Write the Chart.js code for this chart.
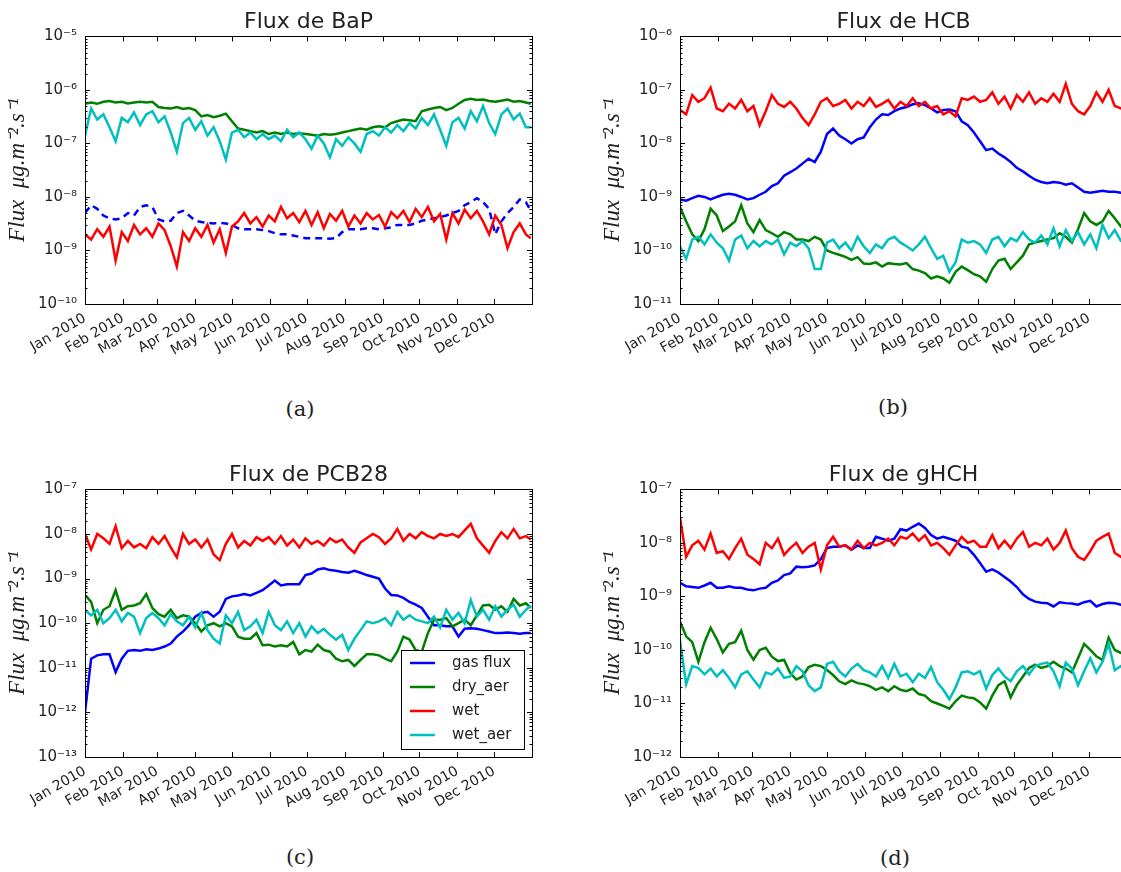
<!DOCTYPE html>
<html>
<head>
<meta charset="utf-8">
<script src="https://cdn.jsdelivr.net/npm/chart.js@4.4.1/dist/chart.umd.min.js"></script>
<style>
    body { margin: 0; background: #fff; width: 1121px; height: 872px; overflow: hidden; position: relative; }
    canvas { position: absolute; }
    .cap { position: absolute; width: 60px; text-align: center; font-family: 'DejaVu Serif', serif; font-size: 21px; line-height: 24px; color: #222; }
</style>
</head>
<body>
<canvas id="chartA" width="545" height="384" style="left:0;top:0"></canvas>
<canvas id="chartB" width="545" height="384" style="left:595px;top:0"></canvas>
<canvas id="chartC" width="545" height="384" style="left:0;top:453px"></canvas>
<canvas id="chartD" width="545" height="384" style="left:595px;top:453px"></canvas>
<div class="cap" style="left:270px;top:397px">(a)</div>
<div class="cap" style="left:863px;top:395px">(b)</div>
<div class="cap" style="left:270px;top:845px">(c)</div>
<div class="cap" style="left:865px;top:846px">(d)</div>

<script>
// Day of year for each sample (roughly every 5 days)
const days = [0,5,10,15,20,25,30,35,40,45, 50,55,60,65,70,75,80,85,90,95,
    100,105,110,115,120,125,130,135,140,145, 150,155,160,165,170,175,180,185,190,195,
    200,205,210,215,220,225,230,235,240,245, 250,255,260,265,270,275,280,285,290,295,
    300,305,310,315,320,325,330,335,340,345, 350,355,360,364];

// Month ticks (day of year) and their labels
const monthTicks = [0,31,59,90,120,151,181,212,243,273,304,334];
const monthLabels = ['Jan 2010','Feb 2010','Mar 2010','Apr 2010','May 2010','Jun 2010',
    'Jul 2010','Aug 2010','Sep 2010','Oct 2010','Nov 2010','Dec 2010'];

const seriesNames = ['gas flux', 'dry_aer', 'wet', 'wet_aer'];

// BaP
const bapGas = [5e-9,7e-9,6e-9,4.5e-9,4e-9,3.8e-9,4e-9,5e-9,4.5e-9,6.5e-9, 7e-9,6.5e-9,3.8e-9,3.5e-9,3.6e-9,5e-9,5.5e-9,4.5e-9,3.6e-9,3.4e-9,
    3.3e-9,3.2e-9,3.3e-9,3.2e-9,3e-9,2.6e-9,2.5e-9,2.5e-9,2.5e-9,2.4e-9, 2.3e-9,2.1e-9,2e-9,2e-9,1.9e-9,1.8e-9,1.7e-9,1.7e-9,1.7e-9,1.7e-9,
    1.65e-9,1.7e-9,2.2e-9,2.5e-9,2.5e-9,2.5e-9,2.6e-9,2.6e-9,2.5e-9,2.6e-9, 2.7e-9,3e-9,3e-9,3e-9,3.2e-9,3.6e-9,3.8e-9,4e-9,4.2e-9,4.5e-9,
    5e-9,5.5e-9,7e-9,8e-9,9.5e-9,8e-9,6e-9,2e-9,3.5e-9,5e-9, 6.5e-9,9e-9,8e-9,5.5e-9];
const bapDry = [5.5e-7,5.8e-7,5.5e-7,6e-7,6.2e-7,5.8e-7,6e-7,5.6e-7,5.8e-7,6e-7, 5.8e-7,6e-7,4.8e-7,4.6e-7,4.5e-7,4.8e-7,4.4e-7,4.6e-7,4.2e-7,3.2e-7,
    3.4e-7,3.1e-7,3.3e-7,3.6e-7,2.6e-7,1.9e-7,1.8e-7,1.7e-7,1.6e-7,1.7e-7, 1.5e-7,1.6e-7,1.5e-7,1.6e-7,1.5e-7,1.55e-7,1.5e-7,1.45e-7,1.4e-7,1.5e-7,
    1.45e-7,1.5e-7,1.6e-7,1.7e-7,1.8e-7,1.9e-7,1.8e-7,2e-7,2.1e-7,2e-7, 2.4e-7,2.6e-7,2.8e-7,2.7e-7,2.6e-7,4e-7,4.3e-7,4.6e-7,4.8e-7,4.2e-7,
    4.6e-7,5.5e-7,6.5e-7,6.8e-7,6.5e-7,6.6e-7,6.2e-7,6e-7,6.3e-7,6.6e-7, 6e-7,6.2e-7,5.8e-7,5.5e-7];
const bapWet = [2e-9,1.6e-9,2.5e-9,1.8e-9,2.8e-9,6.5e-10,2.2e-9,1.5e-9,3e-9,2e-9, 2.6e-9,1.8e-9,3.2e-9,2.4e-9,1.2e-9,5e-10,2.2e-9,1.5e-9,2.6e-9,1.8e-9,
    3e-9,1.4e-9,2.5e-9,9e-10,2.8e-9,3.5e-9,5e-9,3.2e-9,4.2e-9,2.8e-9, 4.5e-9,3.5e-9,6.5e-9,4e-9,5e-9,3.4e-9,5.5e-9,3e-9,5.2e-9,2.6e-9,
    4.8e-9,3.6e-9,5.5e-9,2.8e-9,4.5e-9,3.2e-9,5e-9,3.8e-9,4.6e-9,2.8e-9, 5.2e-9,4e-9,5.5e-9,3.4e-9,6e-9,4.2e-9,6.5e-9,3.5e-9,4.8e-9,1.6e-9,
    5e-9,3.2e-9,5.8e-9,4e-9,5.5e-9,3.5e-9,2e-9,4.5e-9,3e-9,1.1e-9, 2.2e-9,3.2e-9,2e-9,1.7e-9];
const bapWetAer = [1.4e-7,4.5e-7,2.8e-7,3.5e-7,2e-7,1.1e-7,3e-7,2.5e-7,3.8e-7,2.2e-7, 3.5e-7,4e-7,2.5e-7,3.2e-7,1.6e-7,7e-8,2.4e-7,3e-7,1.8e-7,2.6e-7,
    1.4e-7,2e-7,1.1e-7,5e-8,1.6e-7,1.8e-7,1.3e-7,1.6e-7,1.2e-7,1.5e-7, 1.2e-7,1.4e-7,1.1e-7,1.8e-7,1.3e-7,1.6e-7,1.2e-7,8e-8,1.4e-7,1e-7,
    5.5e-8,1.2e-7,9e-8,1.3e-7,1e-7,7e-8,1.5e-7,1.7e-7,1.4e-7,2e-7, 1.6e-7,2.2e-7,1.7e-7,2.4e-7,1.9e-7,3e-7,2.2e-7,3.5e-7,1.8e-7,9e-8,
    2.5e-7,3e-7,1.9e-7,4e-7,2.6e-7,5e-7,2.4e-7,1.5e-7,3.5e-7,4.5e-7, 2.8e-7,3.6e-7,2e-7,2e-7];

// HCB
const hcbGas = [9e-10,8.5e-10,9.5e-10,1.05e-9,1e-9,9e-10,1e-9,1.1e-9,1.15e-9,1.1e-9, 1e-9,9e-10,9.5e-10,1.1e-9,1.25e-9,1.6e-9,1.8e-9,2.5e-9,2.9e-9,3.4e-9,
    4.2e-9,5.2e-9,4.5e-9,7e-9,1.5e-8,1.9e-8,1.4e-8,1.2e-8,1e-8,1.2e-8, 1.3e-8,2e-8,2.8e-8,3.5e-8,3.4e-8,4e-8,4.5e-8,4.8e-8,5.4e-8,5.6e-8,
    5.2e-8,4.5e-8,3.8e-8,4.2e-8,4.3e-8,4e-8,2.6e-8,2.2e-8,1.6e-8,1.1e-8, 7.5e-9,8e-9,6.5e-9,5.5e-9,4.5e-9,3.5e-9,3e-9,2.5e-9,2.1e-9,1.9e-9,
    1.8e-9,1.9e-9,1.85e-9,1.7e-9,1.8e-9,1.5e-9,1.25e-9,1.2e-9,1.25e-9,1.3e-9, 1.25e-9,1.25e-9,1.2e-9,1.2e-9];
const hcbDry = [6.5e-10,3.5e-10,2e-10,1.5e-10,2.5e-10,6e-10,4.5e-10,2.3e-10,2.8e-10,3.5e-10, 7e-10,3.2e-10,2.2e-10,3.7e-10,2.4e-10,2.1e-10,1.8e-10,2.2e-10,2e-10,1.6e-10,
    1.6e-10,1.5e-10,1.8e-10,1.6e-10,1e-10,9e-11,8.3e-11,7.6e-11,6.7e-11,7.5e-11, 5.7e-11,5.6e-11,6e-11,5e-11,5.8e-11,5.6e-11,5.5e-11,5.8e-11,4.5e-11,4.2e-11,
    3.8e-11,3e-11,3.3e-11,3e-11,2.5e-11,4e-11,5e-11,4.3e-11,3.6e-11,3.3e-11, 2.6e-11,4.5e-11,6.5e-11,7e-11,4.5e-11,6e-11,8e-11,1.3e-10,1.4e-10,1.5e-10,
    1.6e-10,1.7e-10,2.1e-10,1.8e-10,1.4e-10,2.5e-10,5e-10,3.5e-10,3e-10,3.5e-10, 5.5e-10,4e-10,2.8e-10,3e-10];
const hcbWet = [4.2e-8,3.5e-8,8e-8,6e-8,7e-8,1.1e-7,4.5e-8,4e-8,5.5e-8,4.5e-8, 6.5e-8,4e-8,5e-8,2.2e-8,4e-8,8e-8,5.5e-8,4.8e-8,6e-8,4.5e-8,
    3e-8,2.2e-8,3.5e-8,6e-8,7e-8,5e-8,5.5e-8,6.5e-8,4.5e-8,6e-8, 5e-8,7e-8,4.8e-8,5.5e-8,6.5e-8,4.5e-8,6e-8,5e-8,7e-8,5e-8,
    6e-8,4.5e-8,5e-8,3.5e-8,4e-8,3.2e-8,7e-8,6.5e-8,7.5e-8,6e-8, 6.5e-8,9e-8,5.5e-8,7.5e-8,4.5e-8,8e-8,6e-8,9e-8,5.5e-8,7e-8,
    6e-8,8.5e-8,6e-8,1.3e-7,5.5e-8,4e-8,3.5e-8,5e-8,9e-8,6e-8, 1e-7,5e-8,4.5e-8,5e-8];
const hcbWetAer = [1.2e-10,7e-11,1.6e-10,1.8e-10,1.3e-10,2e-10,1.4e-10,1.1e-10,6.5e-11,1.6e-10, 1.9e-10,1.1e-10,1.5e-10,1.2e-10,1.5e-10,1.3e-10,1.6e-10,8.5e-11,1.4e-10,1.2e-10,
    1.5e-10,1.1e-10,4.5e-11,4.5e-11,1.4e-10,1.6e-10,1.1e-10,1.4e-10,1e-10,1.8e-10, 1.2e-10,9e-11,1.3e-10,1.1e-10,1.6e-10,1.8e-10,1.4e-10,1.2e-10,1e-10,1.3e-10,
    1.8e-10,1.1e-10,7e-11,8e-11,4e-11,6e-11,1.6e-10,1.4e-10,1.5e-10,1.3e-10, 9e-11,1.6e-10,1.8e-10,1.2e-10,1.7e-10,1.5e-10,2.2e-10,1.6e-10,1.4e-10,1.9e-10,
    1.3e-10,2.6e-10,1.2e-10,2.4e-10,1.5e-10,2.2e-10,1.3e-10,2e-10,1.1e-10,3e-10, 1.7e-10,2.4e-10,1.5e-10,1.4e-10];

// PCB28
const pcbGas = [1e-12,1.6e-11,1.9e-11,2e-11,2e-11,8e-12,1.6e-11,2.4e-11,2.5e-11,2.4e-11, 2.6e-11,2.5e-11,2.7e-11,3e-11,3.5e-11,5e-11,6.5e-11,9e-11,1.4e-10,1.7e-10,
    1.8e-10,1.4e-10,1.8e-10,3.5e-10,4e-10,4.2e-10,4.5e-10,4.2e-10,4.8e-10,5.5e-10, 7e-10,9e-10,7e-10,7.5e-10,7.5e-10,7.5e-10,1.2e-9,1.3e-9,1.6e-9,1.7e-9,
    1.55e-9,1.5e-9,1.4e-9,1.35e-9,1.5e-9,1.35e-9,1.2e-9,1.1e-9,1e-9,6e-10, 4.3e-10,4.2e-10,3.7e-10,3e-10,2.6e-10,2.2e-10,1.4e-10,9e-11,9e-11,8.5e-11,
    8.5e-11,5e-11,7.5e-11,7.7e-11,7.5e-11,7e-11,6.5e-11,6e-11,6e-11,6.2e-11, 6e-11,5.8e-11,6e-11,6e-11];
const pcbDry = [4.3e-10,3e-10,1e-10,2e-10,2.4e-10,5.5e-10,2e-10,2.4e-10,2.5e-10,2.8e-10, 4.5e-10,2.2e-10,1.6e-10,1.4e-10,2e-10,1.3e-10,1.5e-10,1.4e-10,1e-10,6.5e-11,
    9e-11,1e-10,8.5e-11,1e-10,8.5e-11,5e-11,4.5e-11,4.5e-11,6e-11,3.2e-11, 3.3e-11,3e-11,3.2e-11,3e-11,3.8e-11,2e-11,2.5e-11,2.3e-11,3.3e-11,2.5e-11,
    2.3e-11,1.6e-11,1.4e-11,1.5e-11,1.1e-11,1.5e-11,2e-11,2e-11,1.9e-11,1.6e-11, 1.4e-11,2.3e-11,5e-11,4.3e-11,2.5e-11,2.3e-11,6e-11,1.2e-10,1.2e-10,1.3e-10,
    8.5e-11,1e-10,1.2e-10,9e-11,1.5e-10,2.5e-10,2.6e-10,2e-10,2.4e-10,1.8e-10, 3.5e-10,2.5e-10,2.8e-10,2.2e-10];
const pcbWet = [1e-8,4.5e-9,1e-8,8e-9,6e-9,1.5e-8,4.8e-9,7e-9,5e-9,6e-9, 4.8e-9,8.5e-9,6e-9,9e-9,5e-9,3e-9,1e-8,6e-9,7.5e-9,5e-9,
    7.5e-9,3.5e-9,2.6e-9,6e-9,1e-8,5e-9,7e-9,5.5e-9,8.5e-9,7e-9, 8.5e-9,6e-9,9e-9,5.5e-9,7.5e-9,5e-9,8e-9,6e-9,7e-9,5.5e-9,
    8e-9,6.5e-9,7.5e-9,5e-9,3.8e-9,6.5e-9,8e-9,1e-8,8.5e-9,6e-9, 8e-9,1.3e-8,7e-9,1e-8,8e-9,1.1e-8,9e-9,8e-9,1e-8,9e-9,
    1e-8,8.5e-9,1.2e-8,1.7e-8,8e-9,5.5e-9,3.8e-9,7e-9,1.1e-8,8e-9, 1.3e-8,8e-9,9e-9,7.5e-9];
const pcbWetAer = [2e-10,1.5e-10,2e-10,1e-10,1.3e-10,2e-10,1.1e-10,1.7e-10,1.4e-10,6e-11, 1.3e-10,1.7e-10,1.3e-10,9e-11,1.6e-10,1.1e-10,9e-11,1.4e-10,8e-11,1.7e-10,
    7e-11,4.5e-11,3.5e-11,1.5e-10,1e-10,1.8e-10,7e-11,8.5e-11,1.2e-10,6e-11, 1.8e-10,9e-11,7e-11,1.1e-10,6e-11,1e-10,5e-11,8.5e-11,6e-11,7.5e-11,
    5.5e-11,4.3e-11,5.5e-11,2.5e-11,4.5e-11,7e-11,1.1e-10,1e-10,1.1e-10,1.3e-10, 9e-11,1.8e-10,1.2e-10,1.5e-10,1.2e-10,1.1e-10,1e-10,1.4e-10,8e-11,2e-10,
    1.2e-10,1.7e-10,1e-10,3.3e-10,1.4e-10,2e-10,1.2e-10,2.4e-10,1.4e-10,2e-10, 2.6e-10,1.4e-10,2e-10,2.5e-10];

// gHCH
const hchGas = [1.8e-9,1.55e-9,1.5e-9,1.45e-9,1.6e-9,1.8e-9,1.45e-9,1.45e-9,1.55e-9,1.45e-9, 1.45e-9,1.35e-9,1.3e-9,1.4e-9,1.45e-9,1.8e-9,2e-9,2.5e-9,2.7e-9,3.6e-9,
    3.5e-9,3.6e-9,3.8e-9,5e-9,8e-9,8.5e-9,8.5e-9,9e-9,7.5e-9,9e-9, 8e-9,8e-9,1.3e-8,1.2e-8,1.1e-8,1.2e-8,1.8e-8,1.7e-8,2e-8,2.3e-8,
    1.9e-8,1.4e-8,1.2e-8,1.3e-8,1.2e-8,1.1e-8,8.5e-9,8e-9,6e-9,4.2e-9, 2.9e-9,3.2e-9,2.8e-9,2.3e-9,1.9e-9,1.5e-9,1.1e-9,9e-10,8e-10,7.6e-10,
    7.5e-10,6.5e-10,7.8e-10,7.5e-10,7.4e-10,7e-10,7.8e-10,8.3e-10,6.5e-10,7.2e-10, 7.6e-10,7.5e-10,7e-10,7e-10];
const hchDry = [3.4e-10,1.8e-10,1.4e-10,6e-11,1.4e-10,2.6e-10,1.6e-10,9e-11,1.3e-10,1.4e-10, 2.3e-10,1e-10,6.6e-11,1e-10,1.1e-10,7.5e-11,6.2e-11,6.5e-11,3.7e-11,2.8e-11,
    3.2e-11,4.8e-11,5.3e-11,5e-11,4.2e-11,3.4e-11,2.6e-11,2.3e-11,2.7e-11,2.4e-11, 2.3e-11,2.1e-11,1.8e-11,2e-11,1.7e-11,2.1e-11,1.8e-11,1.7e-11,1.9e-11,1.5e-11,
    1.4e-11,1.1e-11,1e-11,9e-12,8e-12,1.1e-11,1.4e-11,1.3e-11,1.25e-11,1.05e-11, 8e-12,1.4e-11,2.2e-11,2.6e-11,1.3e-11,2.2e-11,3.2e-11,4.6e-11,5.3e-11,4.6e-11,
    5e-11,6e-11,5e-11,4.5e-11,3.8e-11,7e-11,1.3e-10,1e-10,7.6e-11,6.5e-11, 1.7e-10,1e-10,8.8e-11,9e-11];
const hchWet = [3e-8,5.5e-9,9e-9,1.1e-8,7.5e-9,1.5e-8,6.5e-9,7e-9,5e-9,8e-9, 1.2e-8,6e-9,5e-9,4e-9,1e-8,8e-9,1.2e-8,6e-9,8e-9,1e-8,
    6.5e-9,8.5e-9,1e-8,3.2e-9,9e-9,1.3e-8,8.5e-9,9e-9,7.5e-9,1.1e-8, 8e-9,1e-8,9e-9,1e-8,1.2e-8,9e-9,1.3e-8,1.2e-8,1.5e-8,1.1e-8,
    1.4e-8,9e-9,1e-8,8e-9,6e-9,9e-9,1.3e-8,1e-8,1.1e-8,8.5e-9, 8.5e-9,1.4e-8,8e-9,1.1e-8,8e-9,1.2e-8,1.6e-8,8.5e-9,1e-8,9e-9,
    1.2e-8,7.5e-9,1e-8,1.7e-8,8e-9,5.5e-9,4.8e-9,7e-9,1.1e-8,1.3e-8, 1.5e-8,6.5e-9,5.5e-9,6e-9];
const hchWetAer = [1.5e-10,2.3e-11,5e-11,4.6e-11,3.5e-11,4.5e-11,3.2e-11,4.2e-11,3e-11,2e-11, 3.5e-11,4e-11,2.8e-11,2e-11,3.8e-11,3.5e-11,4.5e-11,3e-11,3.2e-11,5e-11,
    4e-11,2.2e-11,1.7e-11,2e-11,5.5e-11,6e-11,4e-11,3.2e-11,4.5e-11,5.5e-11, 4.2e-11,3.8e-11,3.2e-11,5e-11,3e-11,5.5e-11,3.2e-11,3.6e-11,2.5e-11,3.6e-11,
    3e-11,4.8e-11,2.5e-11,1.8e-11,1.2e-11,2e-11,3.8e-11,4e-11,3.5e-11,4e-11, 1.9e-11,3.4e-11,4.5e-11,3.2e-11,2.6e-11,4e-11,5e-11,3.5e-11,5e-11,5.5e-11,
    5.8e-11,4e-11,2.1e-11,5.8e-11,4.5e-11,2.2e-11,4e-11,7e-11,3.8e-11,6e-11, 1.3e-10,4.2e-11,5e-11,4e-11];

// Line colours (matplotlib classic b, g, r, c)
const seriesColors = ['#0000ff', '#008000', '#ff0000', '#00bfbf'];

const SUP = {'-': '\u207b', '0': '\u2070', '1': '\u00b9', '2': '\u00b2', '3': '\u00b3',
    '4': '\u2074', '5': '\u2075', '6': '\u2076', '7': '\u2077', '8': '\u2078', '9': '\u2079'};

function powLabel(v) {
    const e = Math.round(Math.log10(v));
    return '10' + String(e).split('').map(c => SUP[c]).join('');
}

function decades(min, max) {
    const out = [];
    for (let e = Math.round(Math.log10(min)); e <= Math.round(Math.log10(max)); e++) {
        out.push(Math.pow(10, e));
    }
    return out;
}

// Frame + inward ticks on all four sides, like matplotlib
const framePlugin = {
    id: 'frame',
    afterDatasetsDraw(chart) {
        const { ctx, chartArea: a, scales: { x, y } } = chart;
        ctx.save();
        ctx.strokeStyle = '#000';
        ctx.lineWidth = 1;
        ctx.setLineDash([]);
        ctx.beginPath();
        monthTicks.forEach(d => {
            const px = Math.round(x.getPixelForValue(d)) + 0.5;
            ctx.moveTo(px, a.bottom); ctx.lineTo(px, a.bottom - 5);
            ctx.moveTo(px, a.top); ctx.lineTo(px, a.top + 5);
        });
        const decs = decades(y.min, y.max);
        decs.forEach((dv, k) => {
            for (let m = 1; m < 10; m++) {
                if (k === decs.length - 1 && m > 1) break;
                const py = Math.round(y.getPixelForValue(m * dv)) + 0.5;
                const len = m === 1 ? 5 : 2.5;
                ctx.moveTo(a.left, py); ctx.lineTo(a.left + len, py);
                ctx.moveTo(a.right, py); ctx.lineTo(a.right - len, py);
            }
        });
        ctx.stroke();
        ctx.strokeRect(Math.round(a.left) + 0.5, Math.round(a.top) + 0.5,
            Math.round(a.right - a.left), Math.round(a.bottom - a.top));
        ctx.restore();
    }
};

// Boxed legend inside the plot, bottom right (panel c)
const boxLegend = {
    id: 'boxLegend',
    afterDraw(chart) {
        const { ctx, chartArea: a } = chart;
        const w = 123, h = 99;
        const x0 = Math.round(a.right - 8 - w), y0 = Math.round(a.bottom - 8 - h);
        ctx.save();
        ctx.fillStyle = '#fff';
        ctx.fillRect(x0, y0, w, h);
        ctx.strokeStyle = '#000';
        ctx.lineWidth = 1;
        ctx.strokeRect(x0 + 0.5, y0 + 0.5, w, h);
        chart.data.datasets.forEach((ds, i) => {
            const yy = y0 + 13 + i * 24;
            ctx.strokeStyle = ds.borderColor;
            ctx.lineWidth = 2.5;
            ctx.beginPath();
            ctx.moveTo(x0 + 9, yy); ctx.lineTo(x0 + 34, yy);
            ctx.stroke();
            ctx.fillStyle = '#222';
            ctx.font = '15px "DejaVu Sans"';
            ctx.textBaseline = 'middle';
            ctx.fillText(ds.label, x0 + 51, yy);
        });
        ctx.restore();
    }
};

const panels = [
    { id: 'chartA', title: 'Flux de BaP', yMin: 1e-10, yMax: 1e-5, series: [bapGas, bapDry, bapWet, bapWetAer], dashedGas: true, legend: false },
    { id: 'chartB', title: 'Flux de HCB', yMin: 1e-11, yMax: 1e-6, series: [hcbGas, hcbDry, hcbWet, hcbWetAer], dashedGas: false, legend: false },
    { id: 'chartC', title: 'Flux de PCB28', yMin: 1e-13, yMax: 1e-7, series: [pcbGas, pcbDry, pcbWet, pcbWetAer], dashedGas: false, legend: true },
    { id: 'chartD', title: 'Flux de gHCH', yMin: 1e-12, yMax: 1e-7, series: [hchGas, hchDry, hchWet, hchWetAer], dashedGas: false, legend: false }
];

panels.forEach(p => {
    new Chart(document.getElementById(p.id), {
        type: 'line',
        data: {
            datasets: p.series.map((vals, i) => ({
                label: seriesNames[i],
                data: days.map((d, k) => ({ x: d, y: vals[k] })),
                borderColor: seriesColors[i],
                backgroundColor: seriesColors[i],
                borderWidth: 2.5,
                borderDash: (i === 0 && p.dashedGas) ? [7, 5] : [],
                pointRadius: 0,
                tension: 0,
                order: 4 - i
            }))
        },
        options: {
            responsive: false,
            animation: false,
            layout: { padding: { left: 0, right: 13, top: 0, bottom: 0 } },
            plugins: {
                legend: { display: false },
                tooltip: { enabled: false },
                title: {
                    display: true,
                    text: p.title,
                    color: '#222',
                    fullSize: false,
                    font: { family: 'DejaVu Sans', size: 22, weight: 'normal' },
                    padding: { top: 9, bottom: 1 }
                }
            },
            scales: {
                x: {
                    type: 'linear',
                    min: 0,
                    max: 365,
                    grid: { display: false, drawTicks: false },
                    border: { display: false },
                    afterBuildTicks: s => { s.ticks = monthTicks.map(v => ({ value: v })); },
                    afterFit: s => { s.height = 80; },
                    ticks: {
                        autoSkip: false,
                        minRotation: 30,
                        maxRotation: 30,
                        padding: 6,
                        color: '#222',
                        font: { family: 'DejaVu Sans', size: 14 },
                        callback: (v, idx) => monthLabels[idx]
                    }
                },
                y: {
                    type: 'logarithmic',
                    min: p.yMin,
                    max: p.yMax,
                    grid: { display: false, drawTicks: false },
                    border: { display: false },
                    afterBuildTicks: s => { s.ticks = decades(p.yMin, p.yMax).map(v => ({ value: v })); },
                    afterFit: s => { s.width = 85; },
                    ticks: {
                        padding: 8,
                        color: '#222',
                        font: { family: 'DejaVu Sans', size: 15 },
                        callback: v => powLabel(v)
                    },
                    title: {
                        display: true,
                        text: 'Flux  \u03bcg.m\u207b\u00b2.s\u207b\u00b9',
                        color: '#222',
                        font: { family: 'Liberation Serif', style: 'italic', size: 23 },
                        padding: { top: 4, bottom: 0 }
                    }
                }
            }
        },
        plugins: p.legend ? [framePlugin, boxLegend] : [framePlugin]
    });
});
</script>
</body>
</html>
